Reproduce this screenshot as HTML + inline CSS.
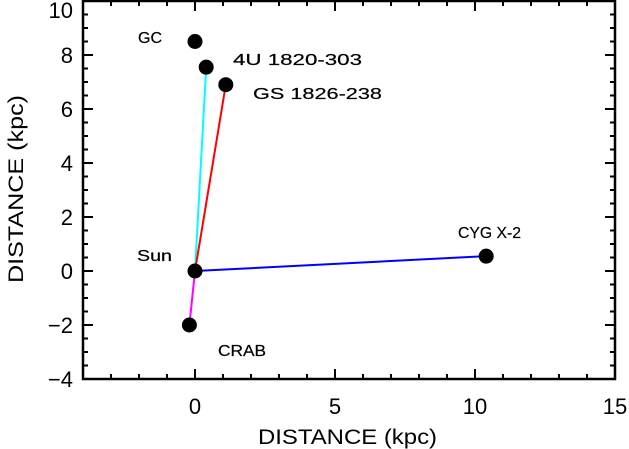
<!DOCTYPE html>
<html><head><meta charset="utf-8"><style>
body{margin:0;background:#fff}
svg{display:block}
text{font-family:"Liberation Sans",sans-serif;fill:#000}
</style></head><body>
<svg width="629" height="449" id="c">
<g id="ticks"></g>
<g id="lines"></g>
<g id="dots"></g>
<g id="labs"></g>
<rect x="83" y="1" width="532" height="378" fill="none" stroke="#000" stroke-width="2.5"/>
<text x="258" y="444" font-size="21" textLength="179" lengthAdjust="spacingAndGlyphs">DISTANCE (kpc)</text>
<text transform="translate(23,283) rotate(-90)" font-size="21" textLength="188" lengthAdjust="spacingAndGlyphs">DISTANCE (kpc)</text>
</svg>
<script>
const names=["GC","4U 1820-303","GS 1826-238","Sun","CYG X-2","CRAB"];
const xs=[0,0.4,1.1,0,10.4,-0.2];
const ys=[8.5,7.55,6.9,0,0.55,-2.0];
const lineColors=[null,"#00ffff","#ff0000",null,"#0000ff","#ff00ff"];
const xTicks=[0,5,10,15];
const yTicks=[-4,-2,0,2,4,6,8,10];
const X0=83,X1=615,Y0=379,Y1=1,xmin=-4,xmax=15,ymin=-4,ymax=10;
const sx=v=>X0+(v-xmin)/(xmax-xmin)*(X1-X0);
const sy=v=>Y0-(v-ymin)/(ymax-ymin)*(Y0-Y1);
const NS="http://www.w3.org/2000/svg";
function mk(t,a,p){const e=document.createElementNS(NS,t);for(const k in a)e.setAttribute(k,a[k]);p.appendChild(e);return e;}
const tg=document.getElementById('ticks');
for(let v=xmin;v<=xmax;v++){const L=(v%5===0)?10:5;
 mk('line',{x1:sx(v),x2:sx(v),y1:Y0,y2:Y0-L,stroke:'#000','stroke-width':2},tg);
 mk('line',{x1:sx(v),x2:sx(v),y1:Y1,y2:Y1+L,stroke:'#000','stroke-width':2},tg);}
for(let v=ymin;v<=ymax;v+=0.5){const L=(v%2===0)?10:5;
 mk('line',{x1:X0,x2:X0+L,y1:sy(v),y2:sy(v),stroke:'#000','stroke-width':2},tg);
 mk('line',{x1:X1,x2:X1-L,y1:sy(v),y2:sy(v),stroke:'#000','stroke-width':2},tg);}
xTicks.forEach(v=>{const t=mk('text',{x:sx(v),y:414,'font-size':22,'text-anchor':'middle'},tg);t.textContent=v;

});
yTicks.forEach(v=>{const t=mk('text',{x:73,y:Math.max(sy(v)+8,18),'font-size':22,'text-anchor':'end'},tg);t.textContent=v<0?'\u2212'+(-v):v;

});
const lg=document.getElementById('lines'),dg=document.getElementById('dots'),lb=document.getElementById('labs');
const sun=3;
names.forEach((n,i)=>{if(lineColors[i]){const l=mk('line',{x1:sx(xs[sun]),y1:sy(ys[sun]),x2:sx(xs[i]),y2:sy(ys[i]),stroke:lineColors[i],'stroke-width':2},lg);

}});
names.forEach((n,i)=>{const c=mk('circle',{cx:sx(xs[i]),cy:sy(ys[i]),r:7.5,fill:'#000'},dg);

});
const lpos=[[138,43,24],[233,65,129],[253,99,129],[137,261,35],[458,238,63],[218,356,48]];
names.forEach((n,i)=>{const t=mk('text',{x:lpos[i][0],y:lpos[i][1],'font-size':16,textLength:lpos[i][2],lengthAdjust:'spacingAndGlyphs',stroke:'#000','stroke-width':0.2},lb);t.textContent=n;

});
</script>
</body></html>
